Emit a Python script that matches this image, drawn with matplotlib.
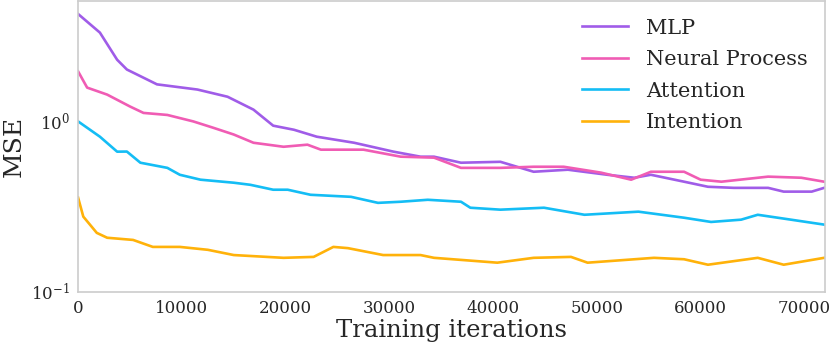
import numpy as np
import matplotlib
matplotlib.use("Agg")
import matplotlib.pyplot as plt

# values (iteration, MSE)
mlp_it = [0, 2100, 3760, 4700, 7600, 11500, 14400, 16900, 18800, 20800, 23000,
          26600, 30400, 33000, 34300, 36900, 40700, 43900, 47200, 51000, 53600,
          55200, 58400, 60700, 63200, 66500, 68000, 70700, 71900]
mlp_mse = [4.2, 3.27, 2.27, 1.99, 1.63, 1.52, 1.38, 1.16, 0.935, 0.885, 0.806,
           0.743, 0.659, 0.616, 0.616, 0.568, 0.575, 0.503, 0.517, 0.483, 0.464,
           0.483, 0.44, 0.411, 0.405, 0.405, 0.385, 0.385, 0.405]

np_it = [0, 870, 2800, 5000, 6300, 8600, 11100, 13000, 15000, 16900, 19800,
         22100, 23400, 27500, 31100, 34300, 36900, 40700, 43900, 46800, 50400,
         53300, 55200, 58400, 60000, 62000, 66500, 69700, 71900]
np_mse = [1.94, 1.56, 1.42, 1.21, 1.11, 1.08, 0.99, 0.91, 0.83, 0.743, 0.704,
          0.724, 0.677, 0.677, 0.616, 0.608, 0.53, 0.53, 0.538, 0.538, 0.497,
          0.452, 0.503, 0.503, 0.452, 0.44, 0.471, 0.464, 0.44]

att_it = [0, 2100, 3760, 4700, 6000, 8600, 9800, 11800, 15000, 16600, 18800,
          20200, 22400, 26300, 28900, 31100, 33700, 36900, 37800, 40700, 44900,
          48800, 54000, 58400, 61000, 63900, 65500, 68700, 71900]
att_mse = [0.99, 0.806, 0.659, 0.66, 0.568, 0.53, 0.483, 0.452, 0.434, 0.422,
           0.395, 0.395, 0.369, 0.359, 0.331, 0.336, 0.345, 0.336, 0.31, 0.302,
           0.31, 0.282, 0.294, 0.271, 0.256, 0.264, 0.282, 0.264, 0.247]

int_it = [0, 500, 1800, 2800, 5300, 7200, 9800, 12500, 15000, 19800, 22700,
          24600, 26000, 29400, 33000, 34300, 40400, 43900, 47500, 49100, 55500,
          58400, 60700, 65500, 68000, 71900]
int_mse = [0.355, 0.275, 0.221, 0.207, 0.201, 0.183, 0.183, 0.176, 0.164, 0.158,
           0.16, 0.183, 0.18, 0.164, 0.164, 0.158, 0.148, 0.158, 0.16, 0.148,
           0.158, 0.155, 0.144, 0.158, 0.144, 0.158]

labels = ["MLP", "Neural Process", "Attention", "Intention"]
colors = ["#a05ce8", "#f05cb4", "#14bdf5", "#ffb20a"]

plt.rcParams['font.family'] = 'DejaVu Serif'
plt.rcParams['mathtext.fontset'] = 'dejavuserif'

fig, ax = plt.subplots(figsize=(8.31, 3.47), dpi=100)
fig.subplots_adjust(left=0.094, right=0.993, top=0.997, bottom=0.159)

series = [(mlp_it, mlp_mse), (np_it, np_mse), (att_it, att_mse), (int_it, int_mse)]
for (it, mse), lab, col in zip(series, labels, colors):
    ax.plot(it, mse, color=col, lw=1.9, label=lab)

ax.set_yscale('log')
ax.set_ylim(0.1, 5.0)
ax.set_xlim(0, 72000)
ax.set_xticks(np.arange(0, 70001, 10000))
ax.tick_params(axis='both', length=0, labelsize=12, colors='#262626', pad=6)
ax.minorticks_off()
for s in ax.spines.values():
    s.set_color('#cccccc')
    s.set_linewidth(1.2)

ax.set_xlabel('Training iterations', fontsize=17.5, color='#262626', labelpad=1)
ax.set_ylabel('MSE', fontsize=18, color='#262626', labelpad=4)

leg = ax.legend(loc='upper right', frameon=False, fontsize=15, handlelength=2.2,
                handletextpad=0.85, labelspacing=0.6, borderaxespad=0.45)
for t in leg.get_texts():
    t.set_color('#262626')

fig.savefig('out.png', dpi=100)
